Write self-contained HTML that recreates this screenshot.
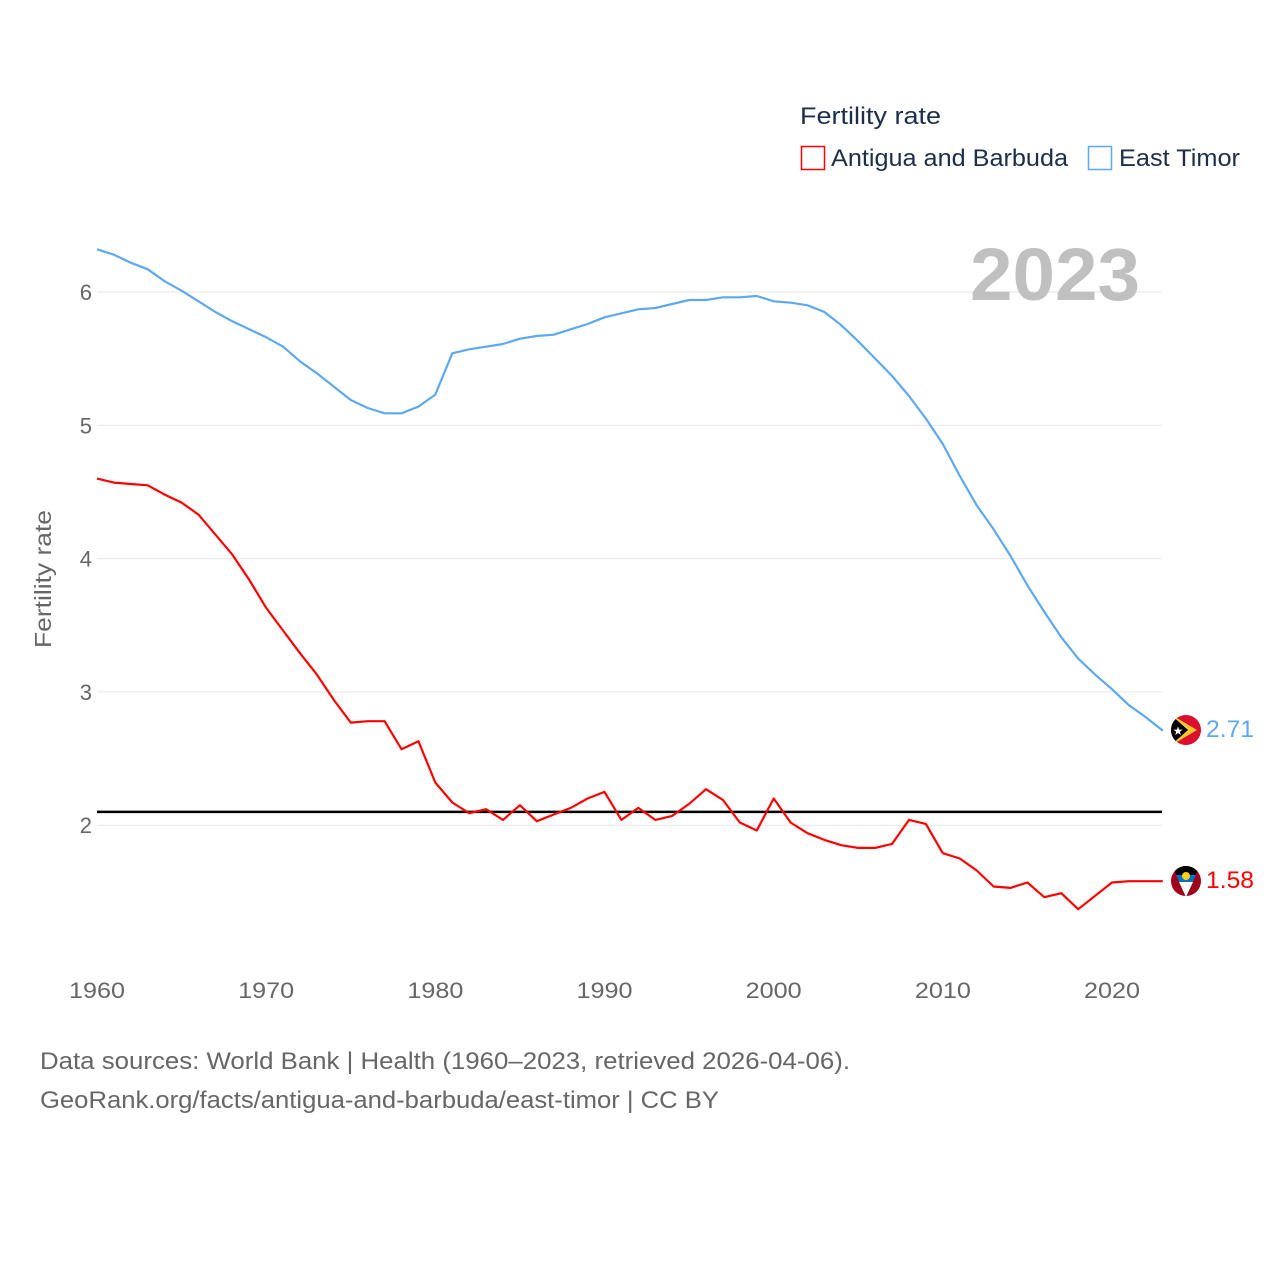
<!DOCTYPE html>
<html><head><meta charset="utf-8">
<style>
body{margin:0;background:#fff;}
svg{display:block;font-family:"Liberation Sans",sans-serif;}
</style></head>
<body>
<svg id="chart" width="1280" height="1280" viewBox="0 0 1280 1280">
  <g id="grid"></g>
  <g id="yticks"></g>
  <g id="xticks"></g>
  <text x="51" y="579" transform="rotate(-90 51 579)" text-anchor="middle" font-size="23" fill="#666" textLength="138" lengthAdjust="spacingAndGlyphs">Fertility rate</text>
  <text x="1140" y="300" text-anchor="end" font-size="74" font-weight="bold" fill="#c0c0c0" textLength="170" lengthAdjust="spacingAndGlyphs">2023</text>
  <g>
    <text x="800" y="124" font-size="24" fill="#1c2e4a" textLength="141" lengthAdjust="spacingAndGlyphs">Fertility rate</text>
    <rect x="801.5" y="146.5" width="23" height="23" fill="none" stroke="#ff0000" stroke-width="1.5"/>
    <text x="831" y="166" font-size="24" fill="#1c2e4a" textLength="237" lengthAdjust="spacingAndGlyphs">Antigua and Barbuda</text>
    <rect x="1088.5" y="146.5" width="23" height="23" fill="none" stroke="#5ea8f0" stroke-width="1.5"/>
    <text x="1119" y="166" font-size="24" fill="#1c2e4a" textLength="121" lengthAdjust="spacingAndGlyphs">East Timor</text>
  </g>
  <g id="series"></g>
  <g>
    <g>
      <clipPath id="c1"><circle cx="1186" cy="730" r="15"/></clipPath>
      <g clip-path="url(#c1)">
        <rect x="1170" y="714" width="32" height="32" fill="#dc0f2e"/>
        <polygon points="1170,714 1197,730 1170,746" fill="#ffc72c"/>
        <polygon points="1170,714 1188,730 1170,746" fill="#000"/>
        <text x="1178" y="735" font-size="12" fill="#fff" text-anchor="middle">★</text>
      </g>
    </g>
    <text id="etLabel" x="1206" y="737" font-size="24" fill="#5ea8f0" textLength="48" lengthAdjust="spacingAndGlyphs">2.71</text>
    <g>
      <clipPath id="c2"><circle cx="1186" cy="881" r="15"/></clipPath>
      <g clip-path="url(#c2)">
        <rect x="1170" y="865" width="32" height="32" fill="#a0001a"/>
        <polygon points="1172,865 1200,865 1186,897" fill="#000"/>
        <polygon points="1176,875 1196,875 1186,897" fill="#0072c6"/>
        <polygon points="1179,882 1193,882 1186,897" fill="#fff"/>
        <circle cx="1186" cy="876" r="4" fill="#fcd116"/>
      </g>
    </g>
    <text id="agLabel" x="1206" y="888" font-size="24" fill="#ff0000" textLength="48" lengthAdjust="spacingAndGlyphs">1.58</text>
  </g>
  <text x="40" y="1069" font-size="24" fill="#666" textLength="810" lengthAdjust="spacingAndGlyphs">Data sources: World Bank | Health (1960–2023, retrieved 2026-04-06).</text>
  <text x="40" y="1108" font-size="24" fill="#666" textLength="679" lengthAdjust="spacingAndGlyphs">GeoRank.org/facts/antigua-and-barbuda/east-timor | CC BY</text>
</svg>
<script>
const startYear = 1960;
const eastTimor = [6.32,6.28,6.22,6.17,6.08,6.01,5.93,5.85,5.78,5.72,5.66,5.59,5.48,5.39,5.29,5.19,5.13,5.09,5.09,5.14,5.23,
5.54,5.57,5.59,5.61,5.65,5.67,5.68,5.72,5.76,5.81,5.84,5.87,5.88,5.91,5.94,5.94,5.96,5.96,5.97,5.93,5.92,5.90,5.85,5.75,5.63,5.50,5.37,5.22,5.05,4.86,
4.62,4.40,4.22,4.02,3.80,3.60,3.41,3.25,3.13,3.02,2.90,2.81,2.71];
const antigua = [4.60,4.57,4.56,4.55,4.48,4.42,4.33,4.18,4.03,3.84,3.63,3.46,3.29,3.13,2.94,2.77,2.78,2.78,2.57,2.63,2.32,
2.17,2.09,2.12,2.04,2.15,2.03,2.08,2.13,2.20,2.25,2.04,2.13,2.04,2.07,2.16,2.27,2.19,2.02,1.96,2.20,2.02,1.94,1.89,1.85,1.83,1.83,1.86,2.04,2.01,1.79,
1.75,1.66,1.54,1.53,1.57,1.46,1.49,1.37,1.47,1.57,1.58,1.58,1.58];
const replacementRate = [2.1];
const yTicks = [2,3,4,5,6];
const xTicks = [1960,1970,1980,1990,2000,2010,2020];

const NS="http://www.w3.org/2000/svg";
const xs = yr => 97 + (yr-1960)*(1015/60);
const ys = v => 292 + (6-v)*133.3;
function mk(tag, attrs, parent){const e=document.createElementNS(NS,tag);for(const k in attrs)e.setAttribute(k,attrs[k]);parent.appendChild(e);return e;}
const grid=document.getElementById('grid'), yt=document.getElementById('yticks'), xt=document.getElementById('xticks'), ser=document.getElementById('series');
yTicks.forEach(v=>{
  const l=mk('line',{x1:97,x2:1162,y1:ys(v),y2:ys(v),stroke:'#e6e6e6','stroke-width':1},grid);
  
  
  const t=mk('text',{x:92,y:ys(v)+8,'text-anchor':'end','font-size':22,fill:'#666'},yt);
  t.textContent=v;
  
  
});
xTicks.forEach(y=>{
  const t=mk('text',{x:xs(y),y:998,'text-anchor':'middle','font-size':22,fill:'#666',textLength:56,lengthAdjust:'spacingAndGlyphs'},xt);
  t.textContent=y;
  
  
});
const rl=mk('line',{x1:97,x2:1162,y1:ys(replacementRate[0]),y2:ys(replacementRate[0]),stroke:'#000','stroke-width':2.5},ser);


function line(arr,color,name){
  const d=arr.map((v,i)=>(i?'L':'M')+xs(startYear+i).toFixed(1)+','+ys(v).toFixed(1)).join(' ');
  const p=mk('path',{d:d,fill:'none',stroke:color,'stroke-width':2.2,'stroke-linejoin':'round'},ser);
  
  
}
line(eastTimor,'#5ea8f0','east-timor-line');
line(antigua,'#ff0000','antigua-line');
document.getElementById('etLabel').textContent=eastTimor[eastTimor.length-1].toFixed(2);
document.getElementById('agLabel').textContent=antigua[antigua.length-1].toFixed(2);
</script>
</body></html>
